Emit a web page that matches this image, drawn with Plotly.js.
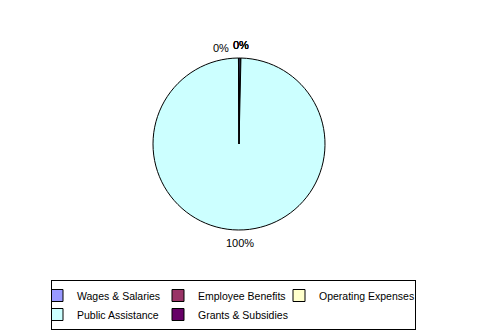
<!DOCTYPE html>
<html>
<head>
<script src="https://cdn.plot.ly/plotly-3.0.1.min.js"></script>
<style>body{margin:0;padding:0;background:#fff}#chart{width:481px;height:333px}</style>
</head>
<body>
<div id="chart"></div>
<script>
var categories = ["Wages & Salaries", "Employee Benefits", "Operating Expenses", "Public Assistance", "Grants & Subsidies"];
var values = [0.3, 0.05, 0.01, 99.54, 0.1];
var colors = ["#9999FF", "#993366", "#FFFFCC", "#CCFFFF", "#660066"];

var total = values.reduce(function (a, b) { return a + b; }, 0);
var pctText = values.map(function (v) { return Math.round(v / total * 100) + "%"; });

var W = 481, H = 333, ML = 20, MR = 20;
var PW = W - ML - MR;
function px2x(px) { return (px - ML) / PW; }
function py2y(py) { return (H - py) / H; }

var FONT = "Liberation Sans, Arial, sans-serif";

var trace = {
  type: "pie",
  labels: categories,
  values: values,
  sort: false,
  direction: "clockwise",
  rotation: 0,
  marker: {colors: colors, line: {color: "#000000", width: 1}},
  textinfo: "none",
  hoverinfo: "label+percent",
  domain: {x: [px2x(153), px2x(325)], y: [py2y(230), py2y(58)]}
};

// percentage labels; the three tiny slices right of 12 o'clock share one spot (overlapping, as in the reference)
var labelSpots = [[241, 45], [241, 45], [241, 45], [240, 243], [221, 48]];
var annotations = labelSpots.map(function (p, i) {
  return {
    text: pctText[i], showarrow: false,
    xref: "paper", yref: "paper", x: px2x(p[0]), y: py2y(p[1]),
    xanchor: "center", yanchor: "middle",
    font: {family: FONT, size: 11, color: "#000000"}
  };
});

var layout = {
  width: W,
  height: H,
  margin: {l: ML, r: MR, t: 0, b: 0},
  paper_bgcolor: "#ffffff",
  showlegend: true,
  annotations: annotations,
  font: {family: FONT, size: 11, color: "#000000"},
  legend: {
    orientation: "h",
    x: px2x(51), xanchor: "left",
    y: py2y(280), yanchor: "top",
    bordercolor: "#000", borderwidth: 1,
    entrywidth: 91, entrywidthmode: "pixels",
    itemwidth: 30,
    indentation: -15,
    tracegroupgap: 0,
    font: {family: FONT, size: 10.5, color: "#000000"}
  }
};

Plotly.newPlot("chart", [trace], layout, {displayModeBar: false, staticPlot: true});
</script>
</body>
</html>
